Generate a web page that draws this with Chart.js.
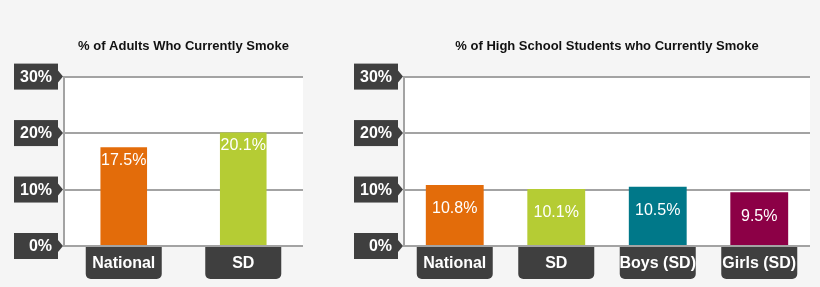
<!DOCTYPE html>
<html>
<head>
<meta charset="utf-8">
<script src="https://cdn.jsdelivr.net/npm/chart.js@4.4.0/dist/chart.umd.min.js"></script>
<style>
  body { margin: 0; background: #f5f5f5; }
  .box { position: absolute; top: 0; height: 287px; }
  #left { left: 0; width: 330px; }
  #right { left: 340px; width: 480px; }
</style>
</head>
<body>
<div class="box" id="left"><canvas id="adults"></canvas></div>
<div class="box" id="right"><canvas id="students"></canvas></div>
<script>
const adultCategories = ['National', 'SD'];
const adultValues = [17.5, 20.1];
const studentCategories = ['National', 'SD', 'Boys (SD)', 'Girls (SD)'];
const studentValues = [10.8, 10.1, 10.5, 9.5];
const yTickValues = [0, 10, 20, 30];
const yTickLabels = ['0%', '10%', '20%', '30%'];

const DARK = '#3f3f3f';
const GRID = '#a3a3a3';
Chart.defaults.font.family = '"Liberation Sans", Arial, sans-serif';

const decor = {
    id: 'decor',
    beforeDraw(chart) {
        const a = chart.chartArea;
        const ctx = chart.ctx;
        ctx.save();
        ctx.fillStyle = '#ffffff';
        ctx.fillRect(a.left, a.top, a.right - a.left, a.bottom - a.top);
        ctx.restore();
    },
    afterDraw(chart, args, opts) {
        const ctx = chart.ctx;
        const a = chart.chartArea;
        const y = chart.scales.y;
        const x = chart.scales.x;
        ctx.save();

        // y tick boxes with arrows
        yTickValues.forEach((v, i) => {
            const py = y.getPixelForValue(v);
            const l = a.left - 50, r = a.left - 6;
            ctx.fillStyle = DARK;
            ctx.fillRect(l, py - 13, r - l, 26);
            ctx.beginPath();
            ctx.moveTo(r, py - 6);
            ctx.lineTo(a.left - 1, py);
            ctx.lineTo(r, py + 6);
            ctx.closePath();
            ctx.fill();
            ctx.fillStyle = '#ffffff';
            ctx.font = 'bold 16px "Liberation Sans", Arial, sans-serif';
            ctx.textAlign = 'right';
            ctx.textBaseline = 'middle';
            ctx.fillText(yTickLabels[i], r - 6, py + 1);
        });

        // category boxes
        chart.data.labels.forEach((lab, i) => {
            const px = x.getPixelForValue(i);
            const l = px - 38, t = a.bottom + 1, w = 76, h = 32;
            ctx.fillStyle = DARK;
            ctx.beginPath();
            ctx.roundRect(l, t, w, h, [0, 0, 5, 5]);
            ctx.fill();
            ctx.fillStyle = '#ffffff';
            ctx.font = 'bold 16px "Liberation Sans", Arial, sans-serif';
            ctx.textAlign = 'center';
            ctx.textBaseline = 'middle';
            ctx.fillText(lab, px, t + 17);
        });

        // value labels
        const meta = chart.getDatasetMeta(0);
        ctx.font = '16px "Liberation Sans", Arial, sans-serif';
        ctx.fillStyle = '#ffffff';
        ctx.textAlign = 'center';
        ctx.textBaseline = 'middle';
        meta.data.forEach((bar, i) => {
            const v = chart.data.datasets[0].data[i];
            ctx.fillText(v.toFixed(1) + '%', bar.x, bar.y + opts.labelOffset);
        });
        ctx.restore();
    }
};

function makeChart(id, title, labels, values, colors, barPct, rightPad, labelOffset) {
    return new Chart(document.getElementById(id), {
        type: 'bar',
        data: {
            labels: labels,
            datasets: [{
                data: values,
                backgroundColor: colors,
                borderWidth: 0,
                categoryPercentage: 1,
                barPercentage: barPct
            }]
        },
        options: {
            responsive: true,
            maintainAspectRatio: false,
            animation: false,
            layout: { padding: { left: 64, right: rightPad, bottom: 41, top: 0 } },
            plugins: {
                legend: { display: false },
                tooltip: { enabled: false },
                title: {
                    display: true,
                    text: title,
                    color: '#111111',
                    font: { size: 13, weight: 'bold' },
                    padding: { top: 39, bottom: 22 }
                },
                decor: { labelOffset: labelOffset }
            },
            scales: {
                x: { display: false },
                y: {
                    min: 0,
                    max: 30,
                    ticks: { display: false, stepSize: 10 },
                    grid: { color: GRID, lineWidth: 2, drawTicks: false },
                    border: { display: true, color: GRID, width: 2 }
                }
            }
        },
        plugins: [decor]
    });
}

makeChart('adults', '% of Adults Who Currently Smoke', adultCategories, adultValues,
    ['#e36c0a', '#b5cc34'], 0.39, 27, 13);
makeChart('students', '% of High School Students who Currently Smoke', studentCategories, studentValues,
    ['#e36c0a', '#b5cc34', '#007889', '#8c0046'], 0.57, 10, 24);
</script>
</body>
</html>
